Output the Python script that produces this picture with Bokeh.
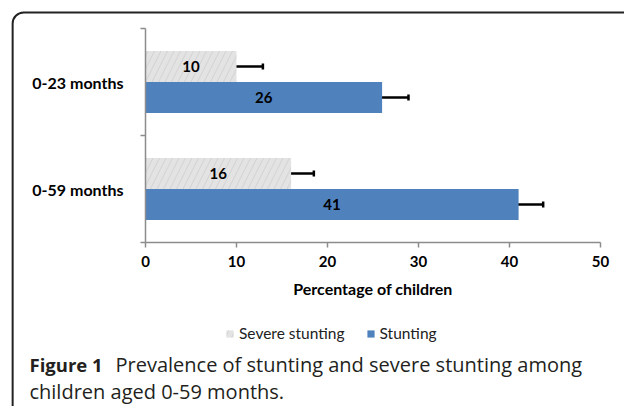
from bokeh.plotting import figure
from bokeh.models import (ColumnDataSource, Range1d, FixedTicker, LinearAxis,
                          Whisker, TeeHead, Label, Legend, LegendItem, BoxAnnotation)
from bokeh.embed import file_html
from bokeh.resources import INLINE
from bokeh.core.properties import value

# ---------------- data ----------------
categories = ["0-59 months", "0-23 months"]
severe = [16, 10]
stunting = [41, 26]
severe_lower = [13.9, 7.6]
severe_upper = [18.5, 12.9]
stunting_lower = [39.1, 23.7]
stunting_upper = [43.7, 28.9]
x_ticks = [0, 10, 20, 30, 40, 50]
x_label = "Percentage of children"
series_names = ["Severe stunting", "Stunting"]
caption_bold = "Figure 1"
caption_line1 = "Prevalence of stunting and severe stunting among"
caption_line2 = "children aged 0-59 months."

FONT = "Lato"
CAP_FONT = "Open Sans"
BLUE = "#4f81bd"
GREY = "#e3e3e3"
AXIS = "#8c8c8c"
NUM = "15px"
TXT = "16px"

OFF = 0.145
H = 0.29
centers = [i + 0.5 for i in range(len(categories))]
bounds = list(range(len(categories) + 1))

src_sev = ColumnDataSource(dict(y=[c + OFF for c in centers], val=severe, mid=[v / 2 for v in severe],
                                lab=[str(v) for v in severe], lower=severe_lower, upper=severe_upper))
src_stu = ColumnDataSource(dict(y=[c - OFF for c in centers], val=stunting, mid=[v / 2 for v in stunting],
                                lab=[str(v) for v in stunting], lower=stunting_lower, upper=stunting_upper))

# the frame covers the whole canvas; axes are pinned inside it
W, HGT = 624, 406
PX_X = 9.1     # pixels per percentage point
PX_Y = 107.0   # pixels per category band
X0, Y0 = 145, 242
p = figure(width=W, height=HGT,
           x_range=Range1d(-X0 / PX_X, (W - X0) / PX_X),
           y_range=Range1d(-(HGT - Y0) / PX_Y, Y0 / PX_Y),
           output_backend="svg", toolbar_location=None,
           x_axis_location=None, y_axis_location=None,
           min_border=0)
p.outline_line_color = None
p.grid.visible = False
p.background_fill_color = "white"
p.border_fill_color = "white"

# x axis
xa = LinearAxis(fixed_location=0, bounds=(x_ticks[0], x_ticks[-1]),
                ticker=FixedTicker(ticks=x_ticks, minor_ticks=[]))
xa.axis_line_color = AXIS
xa.axis_line_width = 1.5
xa.major_tick_line_color = AXIS
xa.major_tick_line_width = 1.5
xa.major_tick_out = 5
xa.major_tick_in = 0
xa.minor_tick_line_color = None
xa.major_label_text_font = FONT
xa.major_label_text_font_style = "bold"
xa.major_label_text_font_size = NUM
xa.major_label_text_color = "black"
xa.major_label_standoff = 8
xa.axis_label = x_label
xa.axis_label_text_font = FONT
xa.axis_label_text_font_style = "bold"
xa.axis_label_text_font_size = TXT
xa.axis_label_text_color = "black"
xa.axis_label_standoff = 9
p.add_layout(xa, "below")

# y axis: ticks at category boundaries, labels at category centres
ya = LinearAxis(fixed_location=0, bounds=(bounds[0], bounds[-1]),
                ticker=FixedTicker(ticks=centers, minor_ticks=bounds),
                major_label_overrides={c: cat for c, cat in zip(centers, categories)})
ya.axis_line_color = AXIS
ya.axis_line_width = 1.5
ya.major_tick_out = 0
ya.major_tick_in = 0
ya.major_tick_line_color = None
ya.minor_tick_line_color = AXIS
ya.minor_tick_line_width = 1.5
ya.minor_tick_out = 5
ya.minor_tick_in = 0
ya.major_label_text_font = FONT
ya.major_label_text_font_style = "bold"
ya.major_label_text_font_size = TXT
ya.major_label_text_color = "black"
ya.major_label_standoff = 17
p.add_layout(ya, "left")

r_sev = p.hbar(y="y", right="val", left=0, height=H, source=src_sev,
               fill_color=GREY, line_color=None,
               hatch_pattern="right_diagonal_line", hatch_color="#bdbdbd", hatch_alpha=0.45,
               hatch_scale=13, hatch_weight=1)
r_stu = p.hbar(y="y", right="val", left=0, height=H, source=src_stu,
               fill_color=BLUE, line_color=None)

for src in (src_sev, src_stu):
    p.text(x="mid", y="y", text="lab", source=src,
           text_align="center", text_baseline="middle", text_font=value(FONT),
           text_font_style="bold", text_font_size=NUM, text_color="black")
    w = Whisker(base="y", lower="lower", upper="upper",
                dimension="width", source=src, line_color="black", line_width=2.5,
                upper_head=TeeHead(size=6, line_width=2.5, line_color="black"),
                lower_head=TeeHead(size=6, line_width=2.5, line_color="black"))
    p.add_layout(w)

legend = Legend(items=[LegendItem(label=series_names[0], renderers=[r_sev]),
                       LegendItem(label=series_names[1], renderers=[r_stu])],
                location=(225, 64), orientation="horizontal", padding=0, margin=0, spacing=21,
                glyph_width=9, glyph_height=9, label_standoff=5,
                border_line_color=None, background_fill_alpha=0,
                label_text_font=FONT, label_text_font_size="15.5px", label_text_color="#222222")
p.add_layout(legend)

# outer frame of the figure panel
box = BoxAnnotation(left=-14.6, right=62, top=2.1495, bottom=-2.0,
                    fill_alpha=0, line_color="#222222", line_alpha=1.0, line_width=2, border_radius=11)
p.add_layout(box)

CAP_COLOR = "#231f20"
p.add_layout(Label(x=-12.75, y=-1.140, text=caption_bold, text_baseline="middle",
                   text_font=CAP_FONT, text_font_style="bold", text_font_size="18.5px", text_color=CAP_COLOR))
p.add_layout(Label(x=-3.3, y=-1.140, text=caption_line1, text_baseline="middle",
                   text_font=CAP_FONT, text_font_size="20px", text_color=CAP_COLOR))
p.add_layout(Label(x=-12.75, y=-1.393, text=caption_line2, text_baseline="middle",
                   text_font=CAP_FONT, text_font_size="20px", text_color=CAP_COLOR))

open("out.html", "w").write(file_html(p, INLINE))
